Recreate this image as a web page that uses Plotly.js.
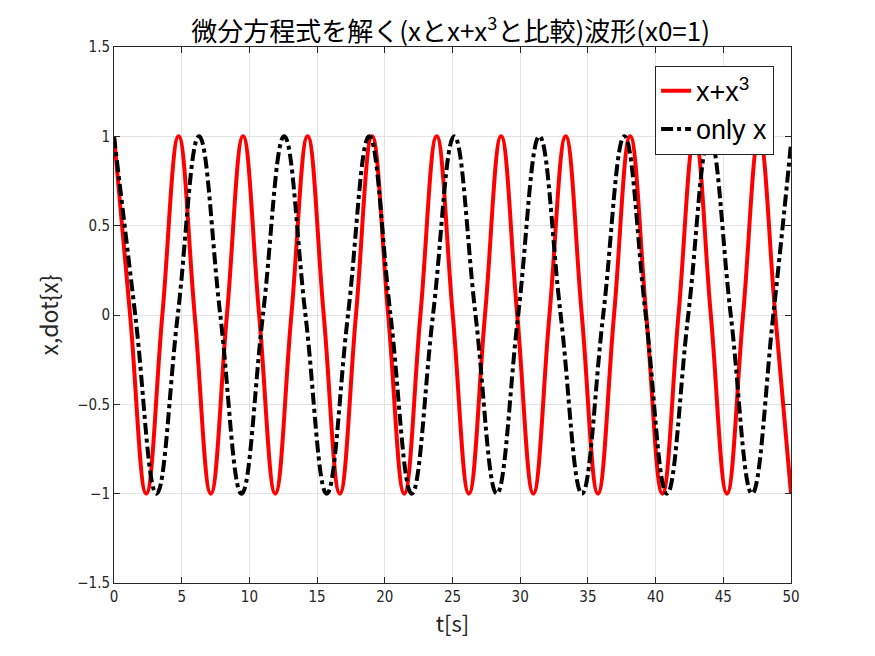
<!DOCTYPE html>
<html>
<head>
<meta charset="utf-8">
<script src="https://cdn.plot.ly/plotly-3.0.1.min.js"></script>
<style>
  html, body { margin: 0; padding: 0; background: #fff; }
  #graph { width: 875px; height: 656px; }
</style>
</head>
<body>
<div id="graph"></div>
<script>
// x+x^3 : peaks, zero crossings and troughs
const cubicT = [0, 1.19, 2.38, 3.57, 4.77, 5.96, 7.15, 8.34, 9.53, 10.72, 11.91, 13.10,
    14.30, 15.49, 16.68, 17.87, 19.06, 20.25, 21.44, 22.63, 23.83, 25.02, 26.21, 27.40,
    28.59, 29.78, 30.97, 32.16, 33.36, 34.55, 35.74, 36.93, 38.12, 39.31, 40.50, 41.69,
    42.89, 44.08, 45.27, 46.46, 47.65, 48.84, 50.00];
const cubicX = [1, 0, -1, 0, 1, 0, -1, 0, 1, 0, -1, 0,
    1, 0, -1, 0, 1, 0, -1, 0, 1, 0, -1, 0,
    1, 0, -1, 0, 1, 0, -1, 0, 1, 0, -1, 0,
    1, 0, -1, 0, 1, 0, -1];

// only x
const linT = [0, 1.57, 3.14, 4.71, 6.28, 7.85, 9.42, 11.00, 12.57, 14.14, 15.71, 17.28,
    18.85, 20.42, 21.99, 23.56, 25.13, 26.70, 28.27, 29.85, 31.42, 32.99, 34.56, 36.13,
    37.70, 39.27, 40.84, 42.41, 43.98, 45.55, 47.12, 48.69, 50.00];
const linX = [1, 0, -1, 0, 1, 0, -1, 0, 1, 0, -1, 0,
    1, 0, -1, 0, 1, 0, -1, 0, 1, 0, -1, 0,
    1, 0, -1, 0, 1, 0, -1, 0, 0.96];

const xTicks = [0, 5, 10, 15, 20, 25, 30, 35, 40, 45, 50];
const yTicks = [-1.5, -1, -0.5, 0, 0.5, 1, 1.5];
const yTickText = ["\u22121.5", "\u22121", "\u22120.5", "0", "0.5", "1", "1.5"];

const tickFont = { family: "DejaVu Sans Condensed, Liberation Sans Narrow, sans-serif", size: 15, color: "#262626" };
const jpFont = "Noto Sans CJK JP, sans-serif";

const cubic = {
    name: "x+x<sup>3</sup>",
    x: cubicT,
    y: cubicX,
    type: "scatter",
    mode: "lines",
    line: { color: "#ff0000", width: 4, shape: "spline", smoothing: 1.2 }
};
const lin = {
    name: "only x",
    x: linT,
    y: linX,
    type: "scatter",
    mode: "lines",
    line: { color: "#000000", width: 4, dash: "dashdot", shape: "spline", smoothing: 1.2 }
};

const axisCommon = {
    showgrid: true,
    gridcolor: "#e3e3e3",
    gridwidth: 1,
    zeroline: false,
    showline: true,
    linecolor: "#262626",
    linewidth: 1,
    mirror: "ticks",
    ticks: "inside",
    ticklen: 6,
    tickcolor: "#262626",
    tickfont: tickFont
};

const layout = {
    width: 875,
    height: 656,
    paper_bgcolor: "#ffffff",
    plot_bgcolor: "#ffffff",
    margin: { l: 114, r: 84, t: 47, b: 73 },
    title: {
        text: "微分方程式を解く(xとx+x<sup>3</sup>と比較)波形(x0=1)",
        font: { family: jpFont, size: 26, color: "#000" },
        x: 0.515, xanchor: "center",
        y: 0.952, yanchor: "middle"
    },
    xaxis: Object.assign({}, axisCommon, {
        range: [0, 50],
        tickvals: xTicks,
        title: { text: "t[s]", font: { family: jpFont, size: 22, color: "#262626" }, standoff: 6 }
    }),
    yaxis: Object.assign({}, axisCommon, {
        range: [-1.5, 1.5],
        tickvals: yTicks,
        ticktext: yTickText,
        title: { text: "x,dot{x}", font: { family: jpFont, size: 23, color: "#262626" }, standoff: 12 }
    }),
    showlegend: true,
    legend: {
        x: 0.975, xanchor: "right",
        y: 0.965, yanchor: "top",
        bgcolor: "#ffffff",
        bordercolor: "#262626",
        borderwidth: 1,
        font: { family: "Liberation Sans, Arial, sans-serif", size: 27, color: "#000" },
        tracegroupgap: 0
    }
};

Plotly.newPlot("graph", [cubic, lin], layout, { displayModeBar: false, staticPlot: true });
</script>
</body>
</html>
